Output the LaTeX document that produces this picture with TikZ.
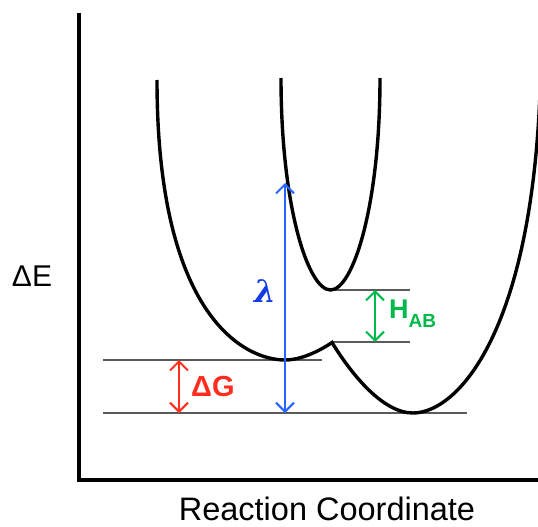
\documentclass[tikz,border=0pt]{standalone}
\usepackage{fontspec}
\setmainfont{Liberation Sans}
\newfontfamily\lamfont{DejaVu Serif}
\usetikzlibrary{arrows.meta}
\definecolor{myred}{RGB}{255,45,30}
\definecolor{myblue}{RGB}{40,100,255}
\definecolor{mydblue}{RGB}{20,60,230}
\definecolor{mygreen}{RGB}{0,185,75}
\definecolor{lvl}{RGB}{90,90,90}
\begin{document}
\begin{tikzpicture}[x=1pt,y=-1pt,
  curve/.style={line width=3.4pt},
  axis/.style={line width=4.7pt},
  level/.style={line width=1.5pt, draw=lvl},
  dbl/.style={line width=2pt, {Straight Barb[length=9pt,width=18pt]}-{Straight Barb[length=9pt,width=18pt]}},
  lab/.style={inner sep=0pt}]
\useasboundingbox (0,0) rectangle (538,527);
\clip (0,0) rectangle (538,527);
% axes
\coordinate (top) at (79,13);
\coordinate (org) at (79,480);
\coordinate (xend) at (545,480);
\draw[axis] (top) -- (org) -- (xend);
% energy levels
\coordinate (g1a) at (103,360); \coordinate (g1b) at (322,360);
\coordinate (g2a) at (103,413); \coordinate (g2b) at (467,413);
\coordinate (h1a) at (331,290); \coordinate (h1b) at (410,290);
\coordinate (h2a) at (332,342); \coordinate (h2b) at (410,342);
\draw[level] (g1a) -- (g1b);
\draw[level] (g2a) -- (g2b);
\draw[level] (h1a) -- (h1b);
\draw[level] (h2a) -- (h2b);
% lower surface
\coordinate (cusp) at (332,342.5);
\draw[curve] (157,80) .. controls (157,317) and (245,360) .. (285,360)
  .. controls (300,360) and (318,352) .. (cusp)
  .. controls (352,375) and (383,413) .. (413,413)
  .. controls (460,413) and (541,323) .. (541,40);
% upper surface
\draw[curve] (281,78) .. controls (281,206) and (308,290) .. (330.5,290)
  .. controls (353,290) and (380,206) .. (380,78);
% arrows
\coordinate (dga) at (179,360); \coordinate (dgb) at (179,413);
\coordinate (la) at (285,183); \coordinate (lb) at (285,413);
\coordinate (ha) at (375,290); \coordinate (hb) at (375,342);
\draw[dbl, myred] (dga) -- (dgb);
\draw[dbl, myblue] (la) -- (lb);
\draw[dbl, mygreen] (ha) -- (hb);
% labels
\node[lab, anchor=base] (dE) at (32,286) {\fontsize{30}{30}\selectfont ΔE};
\node[lab, anchor=base] (rc) at (327,520) {\fontsize{32.5}{33}\selectfont Reaction Coordinate};
\node[lab, anchor=base west, text=myred] (dG) at (191,396) {\fontsize{29}{29}\selectfont\bfseries ΔG};
\node[lab, anchor=base, text=mydblue] (lam) at (265,302) {\fontsize{31}{31}\selectfont\lamfont\bfseries\itshape λ};
\node[lab, anchor=base west, text=mygreen] (hab) at (389,318) {\fontsize{27}{27}\selectfont\bfseries H\raisebox{-9pt}{\fontsize{19}{19}\selectfont AB}};
\end{tikzpicture}
\end{document}
